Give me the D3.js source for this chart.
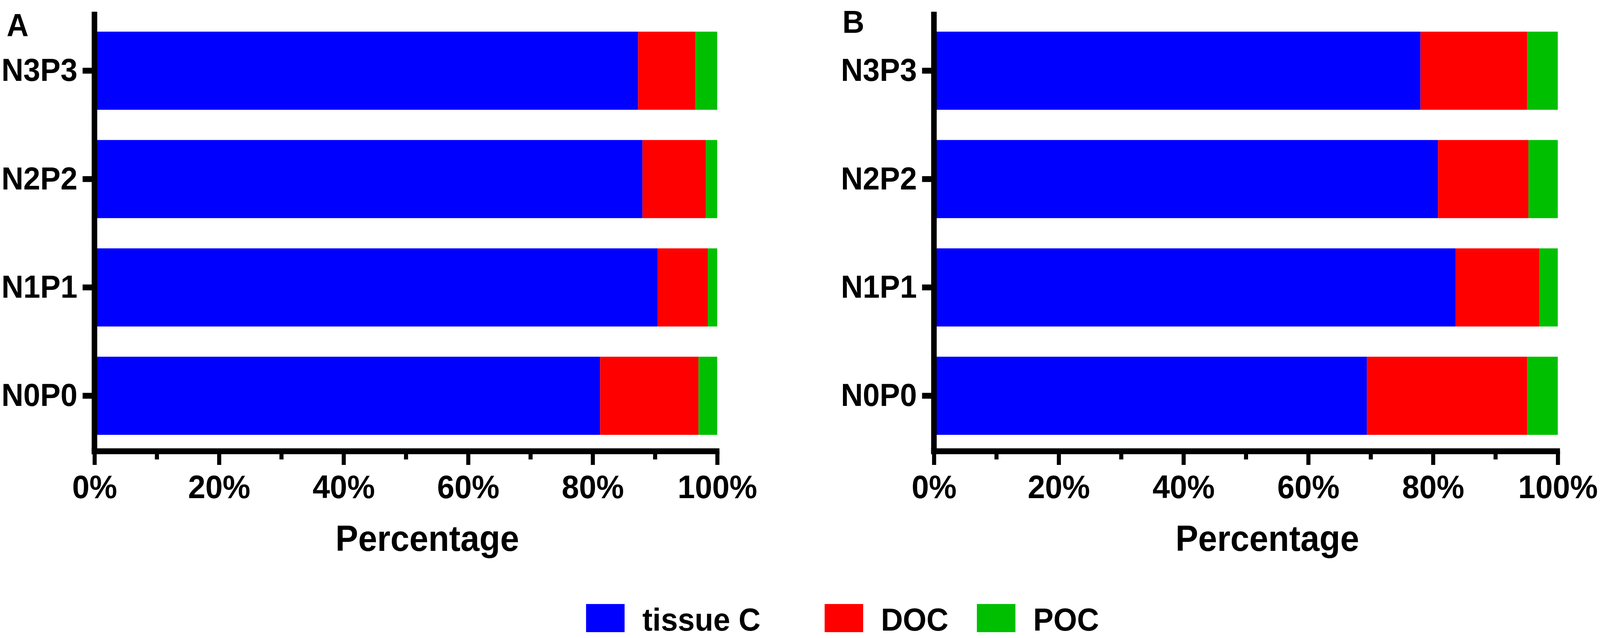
<!DOCTYPE html>
<html>
<head>
<meta charset="utf-8">
<script src="https://cdn.jsdelivr.net/npm/d3@7"></script>
<style>
  html, body { margin: 0; padding: 0; background: #ffffff; width: 100%; height: 100%; overflow: hidden; }
  svg { display: block; position: fixed; left: 0; top: 0; width: 100vw; height: 100vh; }
  text { font-family: "Liberation Sans", Arial, Helvetica, sans-serif; font-weight: bold; fill: #000; }
</style>
</head>
<body>
<svg id="chart" viewBox="0 0 4319 1633" preserveAspectRatio="none"></svg>
<script>
// ---------- DATA ----------
const categories = ["N0P0", "N1P1", "N2P2", "N3P3"];
const seriesNames = ["tissue C", "DOC", "POC"];
const seriesColors = ["#0000ff", "#ff0000", "#00bf00"];

const panelA_tissueC = [81.2, 90.4, 88.0, 87.3];
const panelA_DOC     = [15.8,  8.1, 10.2,  9.2];
const panelA_POC     = [ 3.0,  1.5,  1.8,  3.5];

const panelB_tissueC = [69.4, 83.6, 80.8, 78.0];
const panelB_DOC     = [25.7, 13.4, 14.5, 17.1];
const panelB_POC     = [ 4.9,  3.0,  4.7,  4.9];

const xTickValues = [0, 20, 40, 60, 80, 100];
const xMinorTickValues = [10, 30, 50, 70, 90];
const xAxisTitle = "Percentage";
const panelLetters = ["A", "B"];

// ---------- LAYOUT ----------
const svg = d3.select("#chart");
const W = 4319, H = 1633;
svg.append("rect").attr("width", W).attr("height", H).attr("fill", "#fff");

const axisW = 15;
const yAxisTop = 30;
const xAxisY = 1155;
const bandRange = [81, 1113];

const panels = [
  { letter: panelLetters[0], tissue: panelA_tissueC, doc: panelA_DOC, poc: panelA_POC,
    xRange: [255, 1936], letterX: 18, letterY: 92 },
  { letter: panelLetters[1], tissue: panelB_tissueC, doc: panelB_DOC, poc: panelB_POC,
    xRange: [2521, 4205], letterX: 2274, letterY: 84 }
];

const y = d3.scaleBand()
  .domain(categories.slice().reverse())
  .range(bandRange)
  .paddingInner(0.279)
  .paddingOuter(0);

panels.forEach(p => {
  const rows = categories.map((c, i) => ({
    cat: c,
    "tissue C": p.tissue[i],
    "DOC": p.doc[i],
    "POC": p.poc[i]
  }));
  const stacked = d3.stack().keys(seriesNames)(rows);

  const x = d3.scaleLinear().domain([0, 100]).range(p.xRange);
  const g = svg.append("g");

  // bars
  stacked.forEach((layer, li) => {
    g.append("g").attr("fill", seriesColors[li])
      .selectAll("rect").data(layer).join("rect")
      .attr("x", d => x(d[0]))
      .attr("width", d => x(d[1]) - x(d[0]))
      .attr("y", d => y(d.data.cat))
      .attr("height", y.bandwidth());
  });

  // x axis: major ticks + labels
  const xAxis = d3.axisBottom(x)
    .tickValues(xTickValues)
    .tickFormat(d => d + "%")
    .tickSize(35)
    .tickSizeOuter(0)
    .tickPadding(25);
  const gx = g.append("g").attr("transform", `translate(0,${xAxisY})`).call(xAxis);
  gx.select(".domain").remove();
  gx.selectAll(".tick line").attr("stroke", "#000").attr("stroke-width", 11);
  gx.selectAll(".tick text")
    .attr("font-size", 84)
    .attr("font-family", "'Liberation Sans', Arial, sans-serif")
    .attr("font-weight", "bold")
    .attr("fill", "#000");

  // minor ticks
  const xMinor = d3.axisBottom(x).tickValues(xMinorTickValues).tickSize(21).tickFormat("");
  const gxm = g.append("g").attr("transform", `translate(0,${xAxisY})`).call(xMinor);
  gxm.select(".domain").remove();
  gxm.selectAll(".tick line").attr("stroke", "#000").attr("stroke-width", 11);

  // x domain line
  g.append("line")
    .attr("x1", x(0) - axisW / 2).attr("x2", x(100) + 6)
    .attr("y1", xAxisY).attr("y2", xAxisY)
    .attr("stroke", "#000").attr("stroke-width", axisW);

  // y axis
  const yAxis = d3.axisLeft(y).tickSize(32).tickSizeOuter(0).tickPadding(14);
  const gy = g.append("g").attr("transform", `translate(${x(0)},0)`).call(yAxis);
  gy.select(".domain").remove();
  gy.selectAll(".tick line").attr("stroke", "#000").attr("stroke-width", 15);
  gy.selectAll(".tick text")
    .attr("font-size", 82)
    .attr("font-family", "'Liberation Sans', Arial, sans-serif")
    .attr("font-weight", "bold")
    .attr("fill", "#000");

  g.append("line")
    .attr("x1", x(0)).attr("x2", x(0))
    .attr("y1", yAxisTop).attr("y2", xAxisY + axisW / 2)
    .attr("stroke", "#000").attr("stroke-width", axisW);

  // x axis title
  g.append("text")
    .attr("x", (x(0) + x(100)) / 2 + 58)
    .attr("y", 1410)
    .attr("text-anchor", "middle")
    .attr("font-size", 92)
    .text(xAxisTitle);

  // panel letter
  g.append("text")
    .attr("x", p.letterX)
    .attr("y", p.letterY)
    .attr("font-size", 82)
    .text(p.letter);
});

// ---------- LEGEND ----------
const legendSwatchX = [1582, 2226, 2637];
const legend = svg.append("g");
seriesNames.forEach((name, i) => {
  legend.append("rect")
    .attr("x", legendSwatchX[i]).attr("y", 1546)
    .attr("width", 104).attr("height", 72)
    .attr("fill", seriesColors[i]);
  legend.append("text")
    .attr("x", legendSwatchX[i] + 152).attr("y", 1614)
    .attr("font-size", 82)
    .text(name);
});
</script>
</body>
</html>
